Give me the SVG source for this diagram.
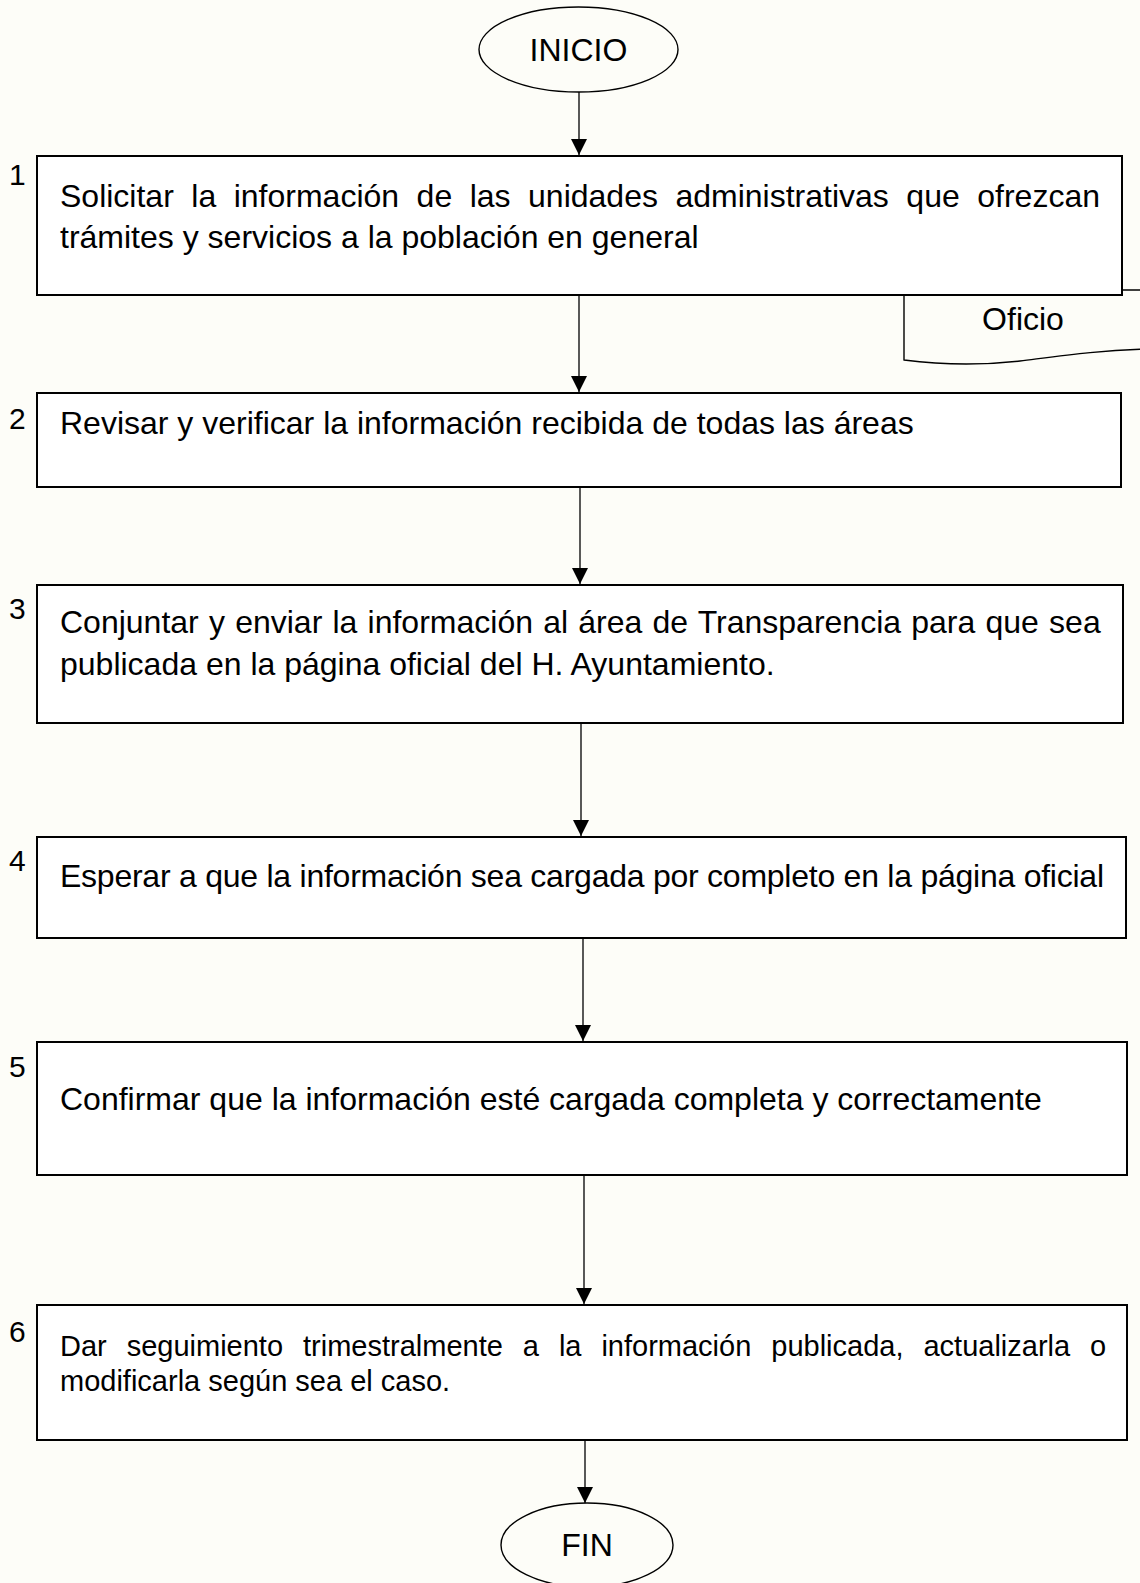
<svg xmlns="http://www.w3.org/2000/svg" width="1140" height="1583" viewBox="0 0 1140 1583">
<style>
text{font-family:"Liberation Sans",Arial,sans-serif;fill:#000}
.t{font-size:32px}
.t6{font-size:29px}
.n{font-size:30px}
.box{fill:#fff;stroke:#000;stroke-width:2}
.term{fill:none;stroke:#000;stroke-width:1.4}
.doc{fill:none;stroke:#000;stroke-width:1.4}
.conn line{stroke:#000;stroke-width:1.3}
</style>
<defs>
<marker id="ah" markerUnits="userSpaceOnUse" markerWidth="16" markerHeight="16" viewBox="0 0 15 15" refX="15" refY="7.5" orient="auto">
<path d="M0,0 L15,7.5 L0,15 z" fill="#000"/>
</marker>
</defs>
<rect x="0" y="0" width="1140" height="1583" fill="#fdfdf8"/>
<g id="inicio">
<ellipse class="term" cx="578.5" cy="49.5" rx="99.5" ry="42.5"/>
<text class="t" x="578.5" y="61" text-anchor="middle">INICIO</text>
</g>
<g id="oficio">
<path class="doc" d="M904,290 L1150,290 L1150,349 C1100,350 1060,356 1020,361 C985,365 950,366 904,360 Z"/>
<text class="t" x="1023" y="330" text-anchor="middle">Oficio</text>
</g>
<g id="step1">
<rect class="box" x="37" y="156" width="1085" height="139"/>
<text class="n" x="9" y="185">1</text>
<text class="t" x="60" y="207" word-spacing="8.6">Solicitar la información de las unidades administrativas que ofrezcan</text>
<text class="t" x="60" y="248">trámites y servicios a la población en general</text>
</g>
<g id="step2">
<rect class="box" x="37" y="393" width="1084" height="94"/>
<text class="n" x="9" y="429">2</text>
<text class="t" x="60" y="434">Revisar y verificar la información recibida de todas las áreas</text>
</g>
<g id="step3">
<rect class="box" x="37" y="585" width="1086" height="138"/>
<text class="n" x="9" y="619">3</text>
<text class="t" x="60" y="633" word-spacing="1.3">Conjuntar y enviar la información al área de Transparencia para que sea</text>
<text class="t" x="60" y="675">publicada en la página oficial del H. Ayuntamiento.</text>
</g>
<g id="step4">
<rect class="box" x="37" y="837" width="1089" height="101"/>
<text class="n" x="9" y="871">4</text>
<text class="t" x="60" y="887" textLength="1044" lengthAdjust="spacing">Esperar a que la información sea cargada por completo en la página oficial</text>
</g>
<g id="step5">
<rect class="box" x="37" y="1042" width="1090" height="133"/>
<text class="n" x="9" y="1077">5</text>
<text class="t" x="60" y="1110">Confirmar que la información esté cargada completa y correctamente</text>
</g>
<g id="step6">
<rect class="box" x="37" y="1305" width="1090" height="135"/>
<text class="n" x="9" y="1342">6</text>
<text class="t6" x="60" y="1356" word-spacing="11.9">Dar seguimiento trimestralmente a la información publicada, actualizarla o</text>
<text class="t6" x="60" y="1391">modificarla según sea el caso.</text>
</g>
<g id="fin">
<ellipse class="term" cx="587" cy="1545" rx="86" ry="42"/>
<text class="t" x="587" y="1556" text-anchor="middle">FIN</text>
</g>
<g id="connectors" class="conn">
<line x1="579" y1="92" x2="579" y2="155" marker-end="url(#ah)"/>
<line x1="579" y1="296" x2="579" y2="392" marker-end="url(#ah)"/>
<line x1="580" y1="488" x2="580" y2="584" marker-end="url(#ah)"/>
<line x1="581" y1="724" x2="581" y2="836" marker-end="url(#ah)"/>
<line x1="583" y1="939" x2="583" y2="1041" marker-end="url(#ah)"/>
<line x1="584" y1="1176" x2="584" y2="1304" marker-end="url(#ah)"/>
<line x1="585" y1="1441" x2="585" y2="1503" marker-end="url(#ah)"/>
</g>
</svg>
